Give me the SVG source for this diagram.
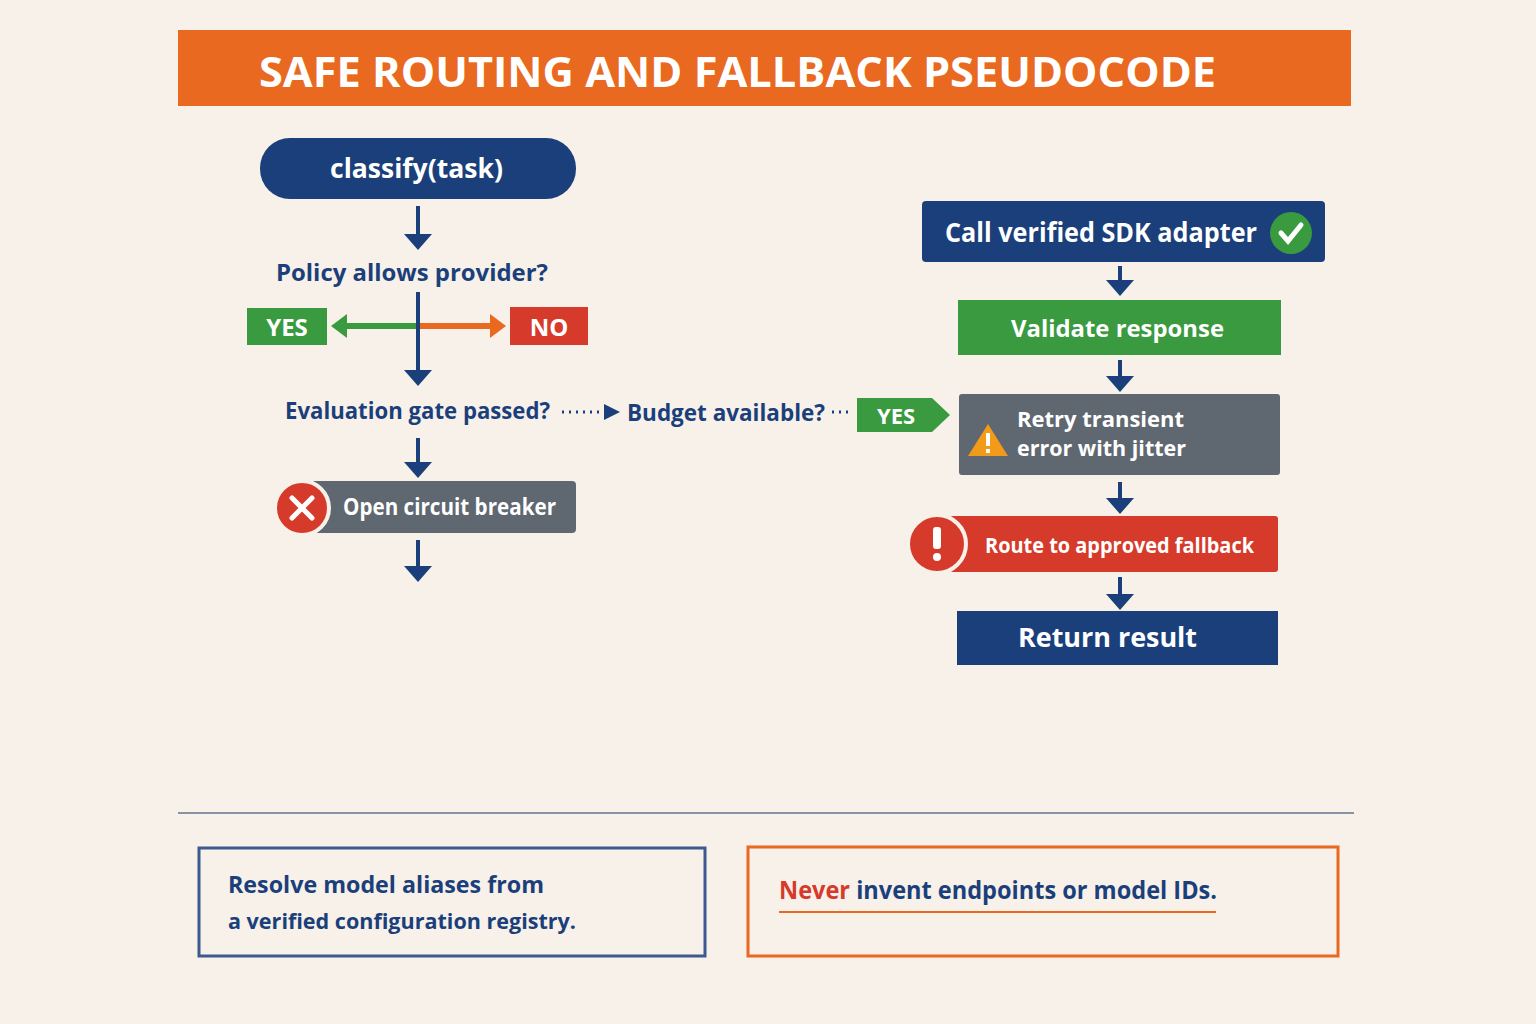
<svg xmlns="http://www.w3.org/2000/svg" width="1536" height="1024" viewBox="0 0 1536 1024">
<style>
text{font-family:"Open Sans","Liberation Sans",sans-serif;font-weight:700}
.w{fill:#fff}
.n{fill:#1B3F7A}
.ar{stroke:#1B3F7A;stroke-width:4;fill:none}
</style>
<defs>
<path id="dn" d="M-14,-12L14,-12L0,4z" fill="#1B3F7A"/>
</defs>
<rect width="1536" height="1024" fill="#F7F1EA"/>
<g id="title"><rect x="178" y="30" width="1173" height="76" fill="#E8691F"/><text x="259" y="87" class="w" font-size="42" textLength="957" lengthAdjust="spacingAndGlyphs">SAFE ROUTING AND FALLBACK PSEUDOCODE</text></g>
<g id="classify"><rect x="260" y="138" width="316" height="61" rx="30" fill="#1B3F7A"/><text x="330" y="178" class="w" font-size="26" textLength="173" lengthAdjust="spacingAndGlyphs">classify(task)</text></g>
<g id="policy"><text x="276" y="281" class="n" font-size="24" textLength="272" lengthAdjust="spacingAndGlyphs">Policy allows provider?</text></g>
<g id="yes1"><rect x="247" y="308" width="80" height="37" fill="#3A9A3F"/><text x="287" y="336" text-anchor="middle" class="w" font-size="24">YES</text></g>
<g id="no1"><rect x="510" y="307" width="78" height="38" fill="#D63A2A"/><text x="549" y="336" text-anchor="middle" class="w" font-size="24">NO</text></g>
<g id="evalgate"><text x="285" y="419" class="n" font-size="24" textLength="265" lengthAdjust="spacingAndGlyphs">Evaluation gate passed?</text></g>
<g id="budget"><text x="627" y="421" class="n" font-size="24" textLength="198" lengthAdjust="spacingAndGlyphs">Budget available?</text></g>
<g id="yes2"><path d="M857,398H932L950,415L932,432H857z" fill="#3A9A3F"/><text x="896" y="424" text-anchor="middle" class="w" font-size="22">YES</text></g>
<g id="breaker"><rect x="310" y="481" width="266" height="52" rx="4" fill="#5F6770"/><circle cx="302" cy="508" r="27" fill="#D63A2A" stroke="#F7F1EA" stroke-width="4"/><path d="M292,498L312,518M312,498L292,518" stroke="#fff" stroke-width="5" stroke-linecap="round"/><text x="343" y="515" class="w" font-size="23" textLength="213" lengthAdjust="spacingAndGlyphs">Open circuit breaker</text></g>
<g id="sdk"><rect x="922" y="201" width="403" height="61" rx="4" fill="#1B3F7A"/><text x="945" y="242" class="w" font-size="26" textLength="312" lengthAdjust="spacingAndGlyphs">Call verified SDK adapter</text><circle cx="1291" cy="233" r="21" fill="#3A9A3F"/><path d="M1281,233L1288,241L1301,225" stroke="#fff" stroke-width="5" fill="none" stroke-linecap="round"/></g>
<g id="validate"><rect x="958" y="300" width="323" height="55" fill="#3A9A3F"/><text x="1011" y="337" class="w" font-size="24" textLength="213" lengthAdjust="spacingAndGlyphs">Validate response</text></g>
<g id="retry"><rect x="959" y="394" width="321" height="81" rx="3" fill="#5F6770"/><path d="M988,424L1008,456H968z" fill="#F29A1A"/><rect x="986" y="433" width="4" height="13" fill="#fff"/><rect x="986" y="449" width="4" height="4" fill="#fff"/><text x="1017" y="427" class="w" font-size="22" textLength="167" lengthAdjust="spacingAndGlyphs">Retry transient</text><text x="1017" y="456" class="w" font-size="22" textLength="169" lengthAdjust="spacingAndGlyphs">error with jitter</text></g>
<g id="fallback"><rect x="950" y="516" width="328" height="56" rx="3" fill="#D63A2A"/><circle cx="937" cy="544" r="29" fill="#D63A2A" stroke="#F7F1EA" stroke-width="4"/><rect x="933" y="527" width="8" height="22" rx="3" fill="#fff"/><circle cx="937" cy="557" r="4" fill="#fff"/><text x="985" y="553" class="w" font-size="22" textLength="269" lengthAdjust="spacingAndGlyphs">Route to approved fallback</text></g>
<g id="return"><rect x="957" y="611" width="321" height="54" fill="#1B3F7A"/><text x="1018" y="647" class="w" font-size="26" textLength="179" lengthAdjust="spacingAndGlyphs">Return result</text></g>
<g id="connectors">
<line class="ar" x1="418" y1="206" x2="418" y2="236"/><use href="#dn" x="418" y="246"/>
<line class="ar" x1="418" y1="292" x2="418" y2="372"/><use href="#dn" x="418" y="382"/>
<path d="M416,326H345" stroke="#3A9A3F" stroke-width="6"/><path d="M331,326L347,314V338z" fill="#3A9A3F"/>
<path d="M420,326H491" stroke="#E8691F" stroke-width="6"/><path d="M506,326L490,314V338z" fill="#E8691F"/>
<line class="ar" x1="418" y1="438" x2="418" y2="464"/><use href="#dn" x="418" y="474"/>
<line class="ar" x1="418" y1="540" x2="418" y2="568"/><use href="#dn" x="418" y="578"/>
<line x1="562" y1="412" x2="604" y2="412" stroke="#1B3F7A" stroke-width="3" stroke-dasharray="2 5"/><path d="M620,412L604,404V420z" fill="#1B3F7A"/>
<line x1="832" y1="412" x2="852" y2="412" stroke="#1B3F7A" stroke-width="3" stroke-dasharray="2 5"/>
<line class="ar" x1="1120" y1="266" x2="1120" y2="282"/><use href="#dn" x="1120" y="292"/>
<line class="ar" x1="1120" y1="360" x2="1120" y2="378"/><use href="#dn" x="1120" y="388"/>
<line class="ar" x1="1120" y1="482" x2="1120" y2="500"/><use href="#dn" x="1120" y="510"/>
<line class="ar" x1="1120" y1="577" x2="1120" y2="596"/><use href="#dn" x="1120" y="606"/>
</g>
<line x1="178" y1="813" x2="1354" y2="813" stroke="#8893A6" stroke-width="2"/>
<g id="note1"><rect x="199" y="848" width="506" height="108" fill="none" stroke="#3B5A8E" stroke-width="3"/><text x="228" y="893" class="n" font-size="24" textLength="316" lengthAdjust="spacingAndGlyphs">Resolve model aliases from</text><text x="228" y="929" class="n" font-size="22" textLength="348" lengthAdjust="spacingAndGlyphs">a verified configuration registry.</text></g>
<g id="note2"><rect x="748" y="847" width="590" height="109" fill="none" stroke="#E8691F" stroke-width="3"/><text x="779" y="899" font-size="25" textLength="438" lengthAdjust="spacingAndGlyphs"><tspan fill="#D63A2A">Never</tspan><tspan class="n"> invent endpoints or model IDs.</tspan></text><line x1="779" y1="912" x2="1216" y2="912" stroke="#E8691F" stroke-width="2"/></g>
</svg>
